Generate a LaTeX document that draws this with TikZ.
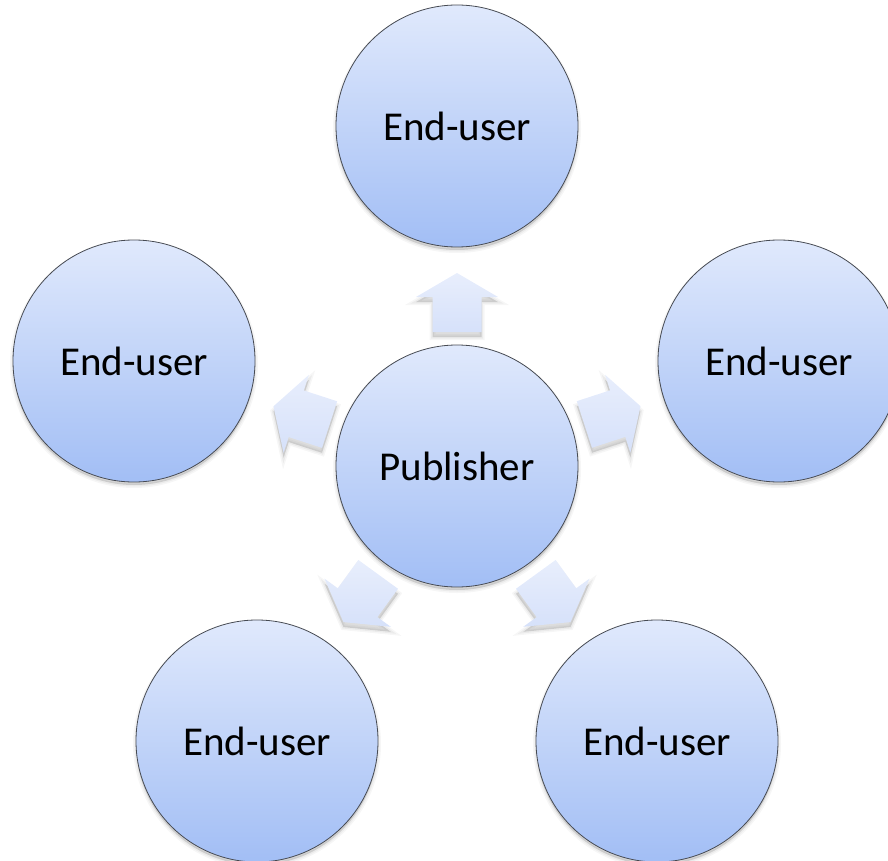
\documentclass[tikz,border=0pt]{standalone}
\usepackage{fontspec}
\setmainfont{Carlito}
\usetikzlibrary{calc}
\definecolor{circtop}{HTML}{E0E9FC}
\definecolor{circbot}{HTML}{A2BEF5}
\definecolor{circline}{HTML}{464A52}
\definecolor{arrtop}{HTML}{E8EEFC}
\definecolor{arrbot}{HTML}{D6E1FA}
\tikzset{
  softshadow/.style={
    preaction={fill=black, draw=black, line width=6pt, opacity=0.035, transform canvas={yshift=-#1}},
    preaction={fill=black, draw=black, line width=3pt, opacity=0.045, transform canvas={yshift=-#1}},
    preaction={fill=black, opacity=0.06, transform canvas={yshift=-#1}}},
  bubble/.style={circle, minimum size=242pt, inner sep=0pt,
    top color=circtop, bottom color=circbot, draw=circline, line width=0.8pt,
    softshadow=3pt, font=\fontsize{41}{49}\selectfont, text=black},
  blockarrow/.style={top color=arrtop, bottom color=arrbot, softshadow=5pt}
}
% outward block arrow from the hub towards node #1
\newcommand\outarrow[1]{%
  \coordinate (ab) at ($(pub)!134pt!(#1)$);
  \coordinate (ah) at ($(pub)!169pt!(#1)$);
  \coordinate (at) at ($(pub)!193pt!(#1)$);
  \path[blockarrow] ($(ab)!24.5pt!90:(#1)$) -- ($(ah)!24.5pt!90:(#1)$)
    -- ($(ah)!41pt!90:(#1)$) -- (at) -- ($(ah)!41pt!-90:(#1)$)
    -- ($(ah)!24.5pt!-90:(#1)$) -- ($(ab)!24.5pt!-90:(#1)$) -- cycle;
}
\begin{document}
\begin{tikzpicture}[x=1pt, y=-1pt]
  \useasboundingbox (0,0) rectangle (888,861);
  \node[bubble] (pub) at (457,466) {Publisher};
  \node[bubble] (u1) at (457,126) {End-user};
  \node[bubble] (u2) at (134,361) {End-user};
  \node[bubble] (u3) at (779,361) {End-user};
  \node[bubble] (u4) at (257,741) {End-user};
  \node[bubble] (u5) at (657,741) {End-user};
  \outarrow{u1}
  \outarrow{u2}
  \outarrow{u3}
  \outarrow{u4}
  \outarrow{u5}
\end{tikzpicture}
\end{document}
